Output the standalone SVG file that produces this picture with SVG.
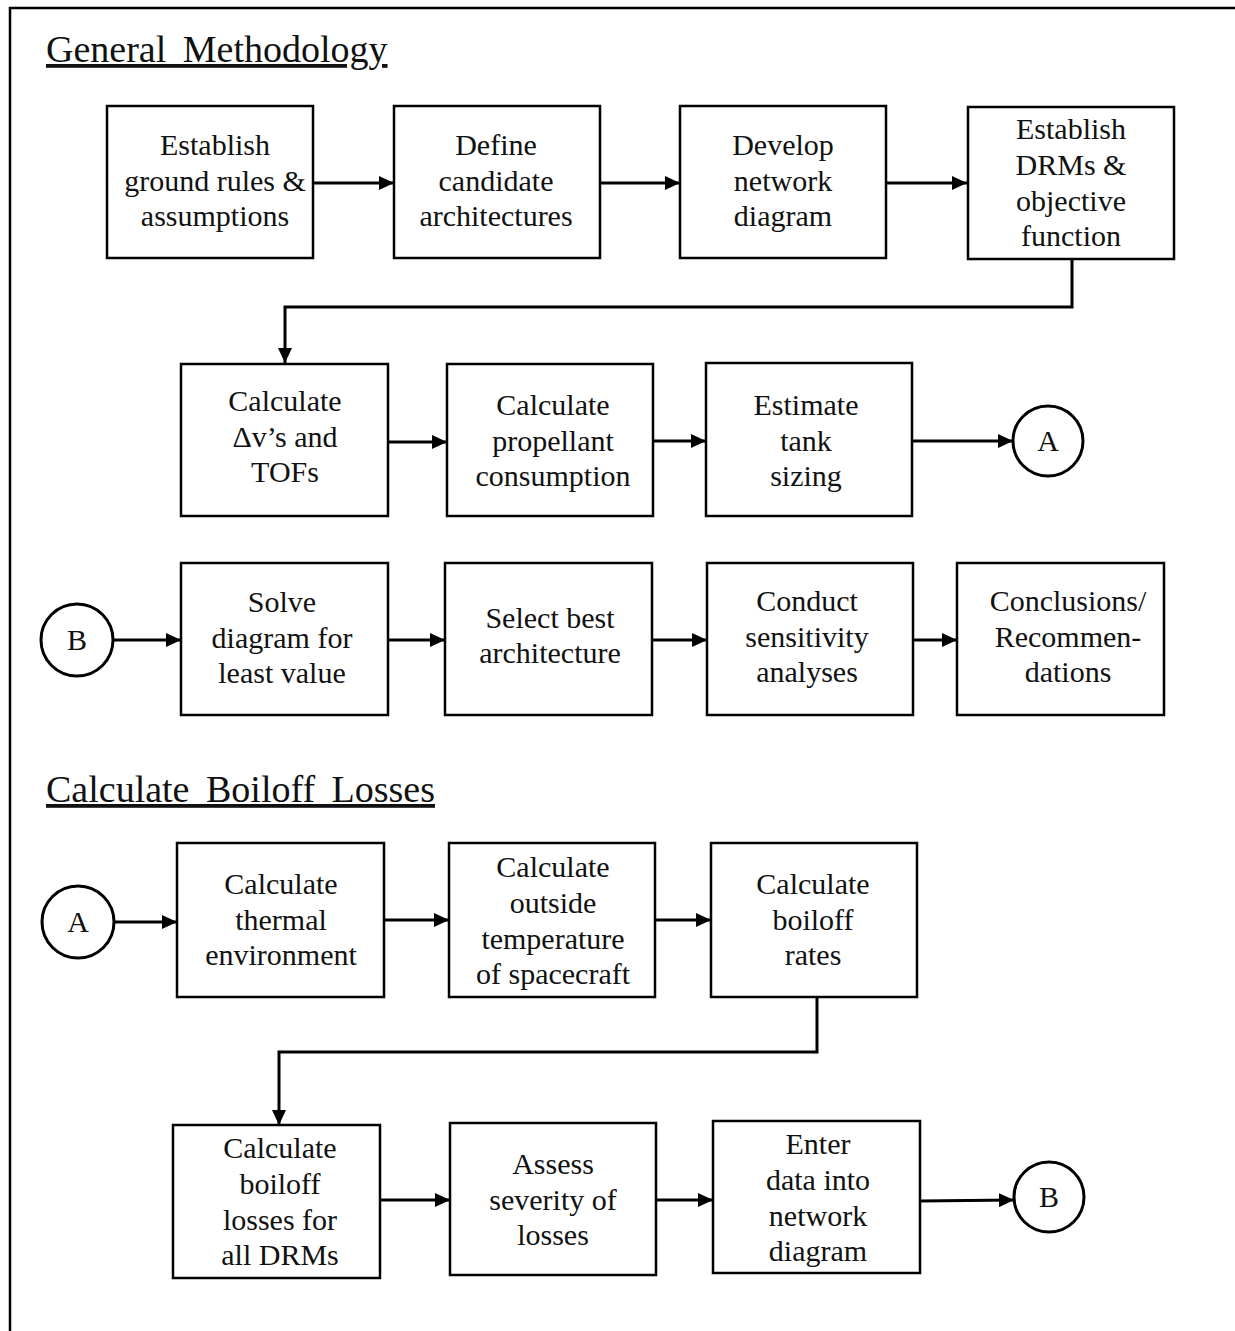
<svg xmlns="http://www.w3.org/2000/svg" width="1235" height="1331" viewBox="0 0 1235 1331">
<style>
.box{fill:#fff;stroke:#000;stroke-width:2.5}
.circ{fill:#fff;stroke:#000;stroke-width:3}
.t{font-family:'Liberation Serif','DejaVu Serif',serif;font-size:30px;fill:#111;text-anchor:middle}
.h{font-family:'Liberation Serif','DejaVu Serif',serif;font-size:38px;fill:#111;text-decoration:underline;word-spacing:7px}
.c{fill:none;stroke:#000;stroke-width:3}
.frame{fill:none;stroke:#000;stroke-width:2.5}
</style>
<defs>
<marker id="ah" markerWidth="15" markerHeight="14" refX="15" refY="7" orient="auto" markerUnits="userSpaceOnUse">
<path d="M0,0 L15,7 L0,14 Z" fill="#000"/>
</marker>
</defs>
<rect width="1235" height="1331" fill="#fff"/>
<path class="frame" d="M10,1331 L10,8 L1235,8"/>
<text class="h" x="46" y="62" font-family="Liberation Serif, DejaVu Serif, serif">General Methodology</text>
<text class="h" x="46" y="802" font-family="Liberation Serif, DejaVu Serif, serif">Calculate Boiloff Losses</text>

<g id="connectors">
<path class="c" d="M313,183 L394,183" marker-end="url(#ah)"/>
<path class="c" d="M600,183 L680,183" marker-end="url(#ah)"/>
<path class="c" d="M886,183 L967,183" marker-end="url(#ah)"/>
<path class="c" d="M1072,259 L1072,307 L285,307 L285,363" marker-end="url(#ah)"/>
<path class="c" d="M388,442 L447,442" marker-end="url(#ah)"/>
<path class="c" d="M653,441 L706,441" marker-end="url(#ah)"/>
<path class="c" d="M912,441 L1013,441" marker-end="url(#ah)"/>
<path class="c" d="M113,640 L181,640" marker-end="url(#ah)"/>
<path class="c" d="M388,640 L445,640" marker-end="url(#ah)"/>
<path class="c" d="M652,640 L707,640" marker-end="url(#ah)"/>
<path class="c" d="M913,640 L957,640" marker-end="url(#ah)"/>
<path class="c" d="M114,922 L177,922" marker-end="url(#ah)"/>
<path class="c" d="M384,920 L449,920" marker-end="url(#ah)"/>
<path class="c" d="M655,920 L711,920" marker-end="url(#ah)"/>
<path class="c" d="M817,997 L817,1052 L279,1052 L279,1125" marker-end="url(#ah)"/>
<path class="c" d="M380,1200 L450,1200" marker-end="url(#ah)"/>
<path class="c" d="M656,1200 L713,1200" marker-end="url(#ah)"/>
<path class="c" d="M920,1201 L1014,1200" marker-end="url(#ah)"/>
</g>

<g font-family="Liberation Serif, DejaVu Serif, serif">
<g id="n1"><rect class="box" x="107" y="106" width="206" height="152"/>
<text class="t" x="215" y="155">Establish</text><text class="t" x="215" y="191">ground rules &amp;</text><text class="t" x="215" y="226">assumptions</text></g>
<g id="n2"><rect class="box" x="394" y="106" width="206" height="152"/>
<text class="t" x="496" y="155">Define</text><text class="t" x="496" y="191">candidate</text><text class="t" x="496" y="226">architectures</text></g>
<g id="n3"><rect class="box" x="680" y="106" width="206" height="152"/>
<text class="t" x="783" y="155">Develop</text><text class="t" x="783" y="191">network</text><text class="t" x="783" y="226">diagram</text></g>
<g id="n4"><rect class="box" x="968" y="107" width="206" height="152"/>
<text class="t" x="1071" y="139">Establish</text><text class="t" x="1071" y="175">DRMs &amp;</text><text class="t" x="1071" y="211">objective</text><text class="t" x="1071" y="246">function</text></g>

<g id="n5"><rect class="box" x="181" y="364" width="207" height="152"/>
<text class="t" x="285" y="411">Calculate</text><text class="t" x="285" y="447">Δv’s and</text><text class="t" x="285" y="482">TOFs</text></g>
<g id="n6"><rect class="box" x="447" y="364" width="206" height="152"/>
<text class="t" x="553" y="415">Calculate</text><text class="t" x="553" y="451">propellant</text><text class="t" x="553" y="486">consumption</text></g>
<g id="n7"><rect class="box" x="706" y="363" width="206" height="153"/>
<text class="t" x="806" y="415">Estimate</text><text class="t" x="806" y="451">tank</text><text class="t" x="806" y="486">sizing</text></g>
<g id="cA1"><circle class="circ" cx="1048" cy="441" r="35"/><text class="t" x="1048" y="451">A</text></g>

<g id="cB1"><circle class="circ" cx="77" cy="640" r="36"/><text class="t" x="77" y="650">B</text></g>
<g id="n8"><rect class="box" x="181" y="563" width="207" height="152"/>
<text class="t" x="282" y="612">Solve</text><text class="t" x="282" y="648">diagram for</text><text class="t" x="282" y="683">least value</text></g>
<g id="n9"><rect class="box" x="445" y="563" width="207" height="152"/>
<text class="t" x="550" y="628">Select best</text><text class="t" x="550" y="663">architecture</text></g>
<g id="n10"><rect class="box" x="707" y="563" width="206" height="152"/>
<text class="t" x="807" y="611">Conduct</text><text class="t" x="807" y="647">sensitivity</text><text class="t" x="807" y="682">analyses</text></g>
<g id="n11"><rect class="box" x="957" y="563" width="207" height="152"/>
<text class="t" x="1068" y="611">Conclusions/</text><text class="t" x="1068" y="647">Recommen-</text><text class="t" x="1068" y="682">dations</text></g>

<g id="cA2"><circle class="circ" cx="78" cy="922" r="36"/><text class="t" x="78" y="932">A</text></g>
<g id="n12"><rect class="box" x="177" y="843" width="207" height="154"/>
<text class="t" x="281" y="894">Calculate</text><text class="t" x="281" y="930">thermal</text><text class="t" x="281" y="965">environment</text></g>
<g id="n13"><rect class="box" x="449" y="843" width="206" height="154"/>
<text class="t" x="553" y="877">Calculate</text><text class="t" x="553" y="913">outside</text><text class="t" x="553" y="949">temperature</text><text class="t" x="553" y="984">of spacecraft</text></g>
<g id="n14"><rect class="box" x="711" y="843" width="206" height="154"/>
<text class="t" x="813" y="894">Calculate</text><text class="t" x="813" y="930">boiloff</text><text class="t" x="813" y="965">rates</text></g>

<g id="n15"><rect class="box" x="173" y="1125" width="207" height="153"/>
<text class="t" x="280" y="1158">Calculate</text><text class="t" x="280" y="1194">boiloff</text><text class="t" x="280" y="1230">losses for</text><text class="t" x="280" y="1265">all DRMs</text></g>
<g id="n16"><rect class="box" x="450" y="1123" width="206" height="152"/>
<text class="t" x="553" y="1174">Assess</text><text class="t" x="553" y="1210">severity of</text><text class="t" x="553" y="1245">losses</text></g>
<g id="n17"><rect class="box" x="713" y="1121" width="207" height="152"/>
<text class="t" x="818" y="1154">Enter</text><text class="t" x="818" y="1190">data into</text><text class="t" x="818" y="1226">network</text><text class="t" x="818" y="1261">diagram</text></g>
<g id="cB2"><circle class="circ" cx="1049" cy="1197" r="35"/><text class="t" x="1049" y="1207">B</text></g>
</g>
</svg>
